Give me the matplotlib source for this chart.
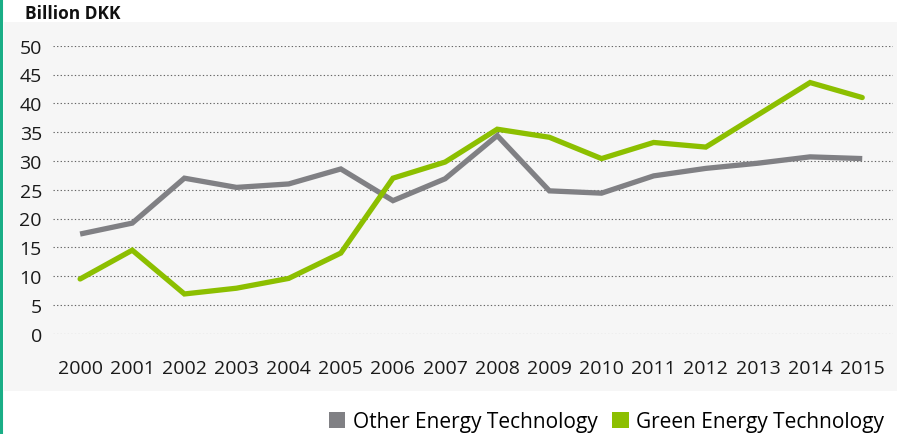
import matplotlib
matplotlib.use("Agg")
import matplotlib.pyplot as plt
from matplotlib.patches import Patch, Rectangle
from matplotlib.lines import Line2D

years = list(range(2000, 2016))
other_energy = [17.3, 19.2, 27.0, 25.4, 26.0, 28.6, 23.1, 26.9, 34.4, 24.8, 24.4, 27.4, 28.7, 29.6, 30.7, 30.4]
green_energy = [9.5, 14.5, 6.9, 7.9, 9.6, 14.0, 27.0, 29.8, 35.5, 34.1, 30.4, 33.2, 32.4, 38.0, 43.6, 41.0]
y_ticks = [0, 5, 10, 15, 20, 25, 30, 35, 40, 45, 50]

GRAY = "#808084"
GREEN = "#8cbf00"
W, H = 897, 435

plt.rcParams["font.family"] = ["Open Sans", "DejaVu Sans"]

fig = plt.figure(figsize=(W / 100, H / 100), dpi=100)
fig.patch.set_facecolor("white")

# light gray panel behind the chart, and the teal bar on the left edge
fig.patches.append(Rectangle((4 / W, (H - 392) / H), (W - 4) / W, (392 - 23) / H,
                             transform=fig.transFigure, facecolor="#f6f6f6", edgecolor="none", zorder=-2))
fig.lines.append(Line2D([1.2 / W, 1.2 / W], [0, 1], transform=fig.transFigure, color="#1aae86", lw=2.2, zorder=-1))

left, right = 53, 893
top, bottom = 46.7, 334.7
ax = fig.add_axes([left / W, (H - bottom) / H, (right - left) / W, (bottom - top) / H])
ax.set_zorder(1)
ax.set_facecolor("none")
ax.set_xlim(1999.48, 2015.59)
ax.set_ylim(0, 50)

for v in y_ticks:
    ax.axhline(v, color="#666666", lw=0.8, ls=(0, (1.2, 2.0)), zorder=1)

ax.plot(years, other_energy, color=GRAY, lw=3.8, solid_capstyle="butt", solid_joinstyle="miter", zorder=3, clip_on=False)
ax.plot(years, green_energy, color=GREEN, lw=3.8, solid_capstyle="round", solid_joinstyle="miter", zorder=4, clip_on=False)

ax.set_xticks(years)
ax.set_xticklabels([str(y) for y in years])
ax.set_yticks(y_ticks)
ax.tick_params(axis="both", length=0, labelsize=14, colors="#1a1a1a")
ax.tick_params(axis="x", pad=18)
ax.tick_params(axis="y", pad=8)
for s in ax.spines.values():
    s.set_visible(False)

fig.text(25 / W, 1 - 14 / H, "Billion DKK", fontsize=12.5, fontweight="bold", va="center", ha="left", color="#111111")

handles = [Patch(facecolor=GRAY, edgecolor="none"), Patch(facecolor=GREEN, edgecolor="none")]
fig.legend(handles, ["Other Energy Technology", "Green Energy Technology"],
           loc="center right", bbox_to_anchor=(884 / W, 1 - 423 / H), ncol=2, frameon=False,
           fontsize=15, handlelength=0.8, handleheight=0.8, handletextpad=0.35, columnspacing=0.7,
           borderaxespad=0, borderpad=0)

fig.savefig("out.png", dpi=100)
